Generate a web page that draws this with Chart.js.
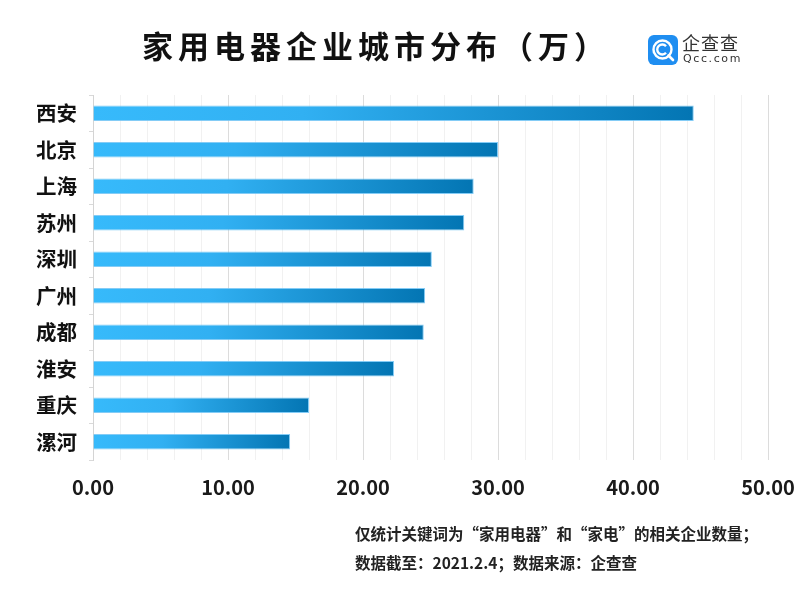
<!DOCTYPE html>
<html lang="zh">
<head>
    <meta charset="UTF-8">
    <title>家用电器企业城市分布（万）</title>
    <script src="https://cdn.jsdelivr.net/npm/chart.js@4.4.0/dist/chart.umd.min.js"></script>
    <style>
        body { margin: 0; background: #fff; font-family: "Noto Sans CJK SC", "Noto Sans", sans-serif; }
        #page { position: relative; width: 800px; height: 601px; overflow: hidden; }
        #wrap { position: absolute; left: 0; top: 0; width: 800px; height: 601px; }
        .title { position: absolute; left: 142px; top: 29px; font-size: 31px; font-weight: bold; line-height: 1; letter-spacing: 5px; color: #111; white-space: nowrap; }
        .logo-icon { position: absolute; left: 648px; top: 35px; width: 30px; height: 30px; }
        .logo-cn { position: absolute; left: 682px; top: 33px; font-size: 18px; line-height: 1; color: #333; letter-spacing: 1px; }
        .logo-en { position: absolute; left: 683px; top: 53px; font-size: 11px; line-height: 1; color: #333; letter-spacing: 1.6px; font-family: "DejaVu Sans", sans-serif; }
        .note { position: absolute; left: 355px; top: 519px; font-size: 15.5px; font-weight: bold; line-height: 28.5px; color: #222; white-space: nowrap; }
    </style>
</head>
<body>
<div id="page">
    <div id="wrap"><canvas id="chart"></canvas></div>
    <div class="title">家用电器企业城市分布（万）</div>
    <svg class="logo-icon" viewBox="0 0 30 30">
        <rect x="0" y="0" width="30" height="30" rx="6" fill="#1f8ef1"/>
        <circle cx="14.5" cy="14.5" r="9" fill="none" stroke="#fff" stroke-width="2.4"/>
        <path d="M18 11.2 A5 5 0 1 0 18 17.8" fill="none" stroke="#fff" stroke-width="2.4"/>
        <line x1="20.5" y1="20.5" x2="25" y2="25" stroke="#fff" stroke-width="2.6" stroke-linecap="round"/>
    </svg>
    <div class="logo-cn">企查查</div>
    <div class="logo-en">Qcc.com</div>
    <div class="note">仅统计关键词为“家用电器”和“家电”的相关企业数量；<br>数据截至：2021.2.4；数据来源：企查查</div>
</div>
<script>
    // values (unit: 万)
    const cities = ['西安', '北京', '上海', '苏州', '深圳', '广州', '成都', '淮安', '重庆', '漯河'];
    const counts = [44.5, 30.0, 28.2, 27.5, 25.1, 24.6, 24.5, 22.3, 16.0, 14.6];
    const xMin = 0;
    const xMax = 50;
    const xStep = 2;      // minor grid every 2
    const xLabelEvery = 10;

    const barFill = (ctx) => {
        const chart = ctx.chart;
        const xs = chart.scales.x;
        if (!xs || ctx.raw == null) return '#36b9fb';
        const x0 = xs.getPixelForValue(0);
        const x1 = xs.getPixelForValue(ctx.raw);
        if (!isFinite(x0) || !isFinite(x1) || x1 <= x0) return '#36b9fb';
        const g = chart.ctx.createLinearGradient(x0, 0, x1, 0);
        g.addColorStop(0, '#37bafb');
        g.addColorStop(0.35, '#31b0f2');
        g.addColorStop(1, '#0375b3');
        return g;
    };

    new Chart(document.getElementById('chart'), {
        type: 'bar',
        data: {
            labels: cities,
            datasets: [{
                data: counts,
                backgroundColor: barFill,
                borderColor: 'rgba(110,195,245,0.85)',
                borderWidth: 1,
                barPercentage: 0.43,
                categoryPercentage: 1
            }]
        },
        options: {
            indexAxis: 'y',
            responsive: true,
            maintainAspectRatio: false,
            animation: false,
            layout: { padding: { top: 95, right: 32, bottom: 0, left: 0 } },
            plugins: { legend: { display: false }, tooltip: { enabled: false }, title: { display: false } },
            scales: {
                x: {
                    min: xMin,
                    max: xMax,
                    afterFit: (s) => { s.height = 141; s.paddingLeft = 0; s.paddingRight = 0; },
                    border: { display: false },
                    grid: {
                        drawTicks: false,
                        color: (c) => (c.tick && c.tick.value % xLabelEvery === 0) ? '#dcdcdc' : '#f1f1f1'
                    },
                    ticks: {
                        stepSize: xStep,
                        autoSkip: false,
                        maxRotation: 0,
                        padding: 15,
                        color: '#1a1a1a',
                        font: { family: '"Noto Sans CJK SC", "Noto Sans", sans-serif', size: 20, weight: 'bold' },
                        callback: (v) => (v % xLabelEvery === 0) ? Number(v).toFixed(2) : ''
                    }
                },
                y: {
                    afterFit: (s) => { s.width = 93; },
                    border: { display: true, color: '#d4d4d4' },
                    grid: { drawOnChartArea: false, tickLength: 4, color: '#d9d9d9' },
                    ticks: {
                        padding: 12,
                        color: '#111',
                        font: { family: '"Noto Sans CJK SC", sans-serif', size: 20.5, weight: 'bold' }
                    }
                }
            }
        }
    });
</script>
</body>
</html>
